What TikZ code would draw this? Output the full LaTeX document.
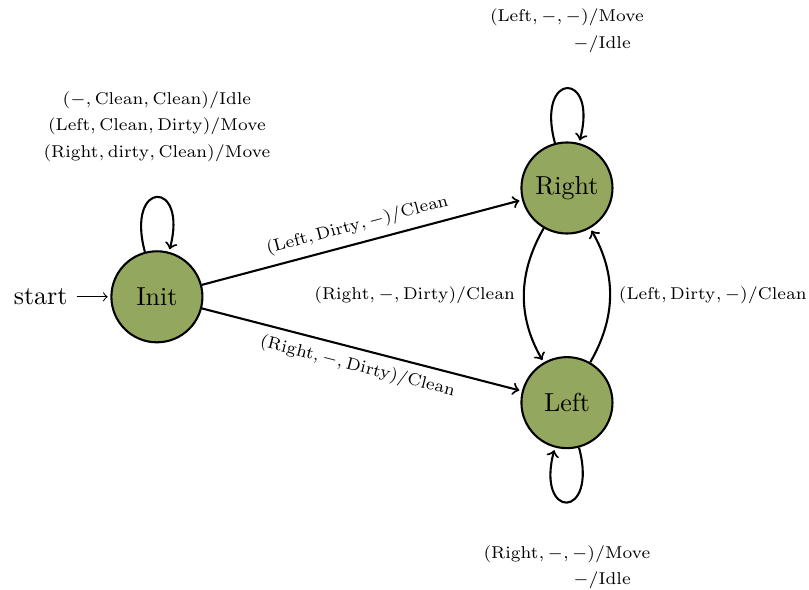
\documentclass[tikz,border=0pt]{standalone}
\usepackage{tikz}
\usetikzlibrary{arrows, automata}
\definecolor{stategreen}{RGB}{148,167,94}

\begin{document}
\begin{tikzpicture}[->,>=to,shorten >=1pt,auto,thick,
  every initial by arrow/.style={thin},
  main node/.style={circle,fill=stategreen,draw,minimum size=1.23cm}]
  \useasboundingbox (-2.12,-3.96) rectangle (8.81,4.01);
  \node[main node, initial] (init) at (0,0) {Init};
  \node[main node] (right) at (5.54,1.47) {Right};
  \node[main node] (left) at (5.54,-1.43) {Left};
  \path[every node/.style={font=\scriptsize, scale=0.94}]
    (init) edge[loop above] node[above=11pt, align=center]
             {$(-,\mathrm{Clean},\mathrm{Clean})/\mathrm{Idle}$\\[2.8pt]
              $(\mathrm{Left},\mathrm{Clean},\mathrm{Dirty})/\mathrm{Move}$\\[2.8pt]
              $(\mathrm{Right},\mathrm{dirty},\mathrm{Clean})/\mathrm{Move}$}(init)
           edge node[sloped, above]
             {$(\mathrm{Left},\mathrm{Dirty},-)/\mathrm{Clean}$}(right)
           edge node[sloped, below]
             {$(\mathrm{Right},-,\mathrm{Dirty})/\mathrm{Clean}$}(left)
    (right) edge[loop above] node[above=11pt, align=center]
             {$(\mathrm{Left},-,-)/\mathrm{Move}$\\[2.8pt]
              \hspace*{4.1em}$-/\mathrm{Idle}$}(right)
            edge[bend right=30] node[left]
             {$(\mathrm{Right},-,\mathrm{Dirty})/\mathrm{Clean}$}(left)
    (left) edge[loop below] node[below=14pt, align=center]
             {$(\mathrm{Right},-,-)/\mathrm{Move}$\\[2.8pt]
              \hspace*{4.1em}$-/\mathrm{Idle}$}(left)
           edge[bend right=30] node[right]
             {$(\mathrm{Left},\mathrm{Dirty},-)/\mathrm{Clean}$}(right);
\end{tikzpicture}
\end{document}
